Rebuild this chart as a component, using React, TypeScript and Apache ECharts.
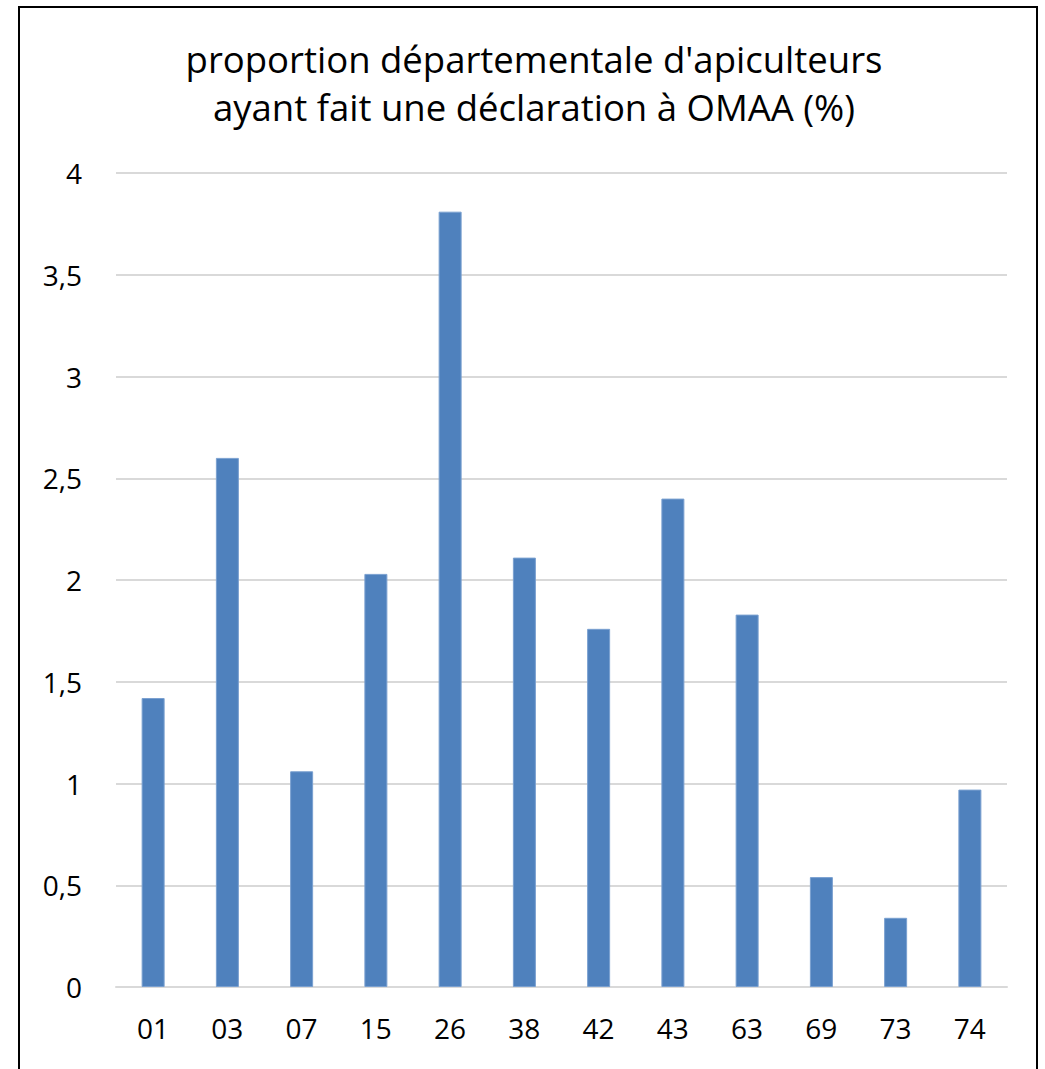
import React, { useEffect, useRef } from "react";
import * as echarts from "echarts";

const categories = ["01", "03", "07", "15", "26", "38", "42", "43", "63", "69", "73", "74"];
const values = [1.42, 2.6, 1.06, 2.03, 3.81, 2.11, 1.76, 2.4, 1.83, 0.54, 0.34, 0.97];
const titleLines = ["proportion départementale d'apiculteurs", "ayant fait une déclaration à OMAA (%)"];

const FONT = "'Open Sans', 'Noto Sans', sans-serif";

export default function App() {
  const ref = useRef<HTMLDivElement>(null);
  useEffect(() => {
    if (!ref.current) return;
    const chart = echarts.init(ref.current, null, { renderer: "svg" });
    chart.setOption({
      animation: false,
      backgroundColor: "#ffffff",
      title: {
        text: titleLines.join("\n"),
        left: 529,
        textAlign: "center",
        top: 30,
        textStyle: {
          fontFamily: FONT,
          fontSize: 36.5,
          fontWeight: "normal",
          color: "#000000",
          lineHeight: 48,
        },
      },
      graphic: [
        {
          type: "rect",
          shape: { x: 19, y: 7, width: 1018, height: 1100 },
          style: { fill: "none", stroke: "#000000", lineWidth: 2 },
          silent: true,
        },
      ],
      grid: { left: 116, right: 38, top: 173, bottom: 82 },
      xAxis: {
        type: "category",
        data: categories,
        axisLine: { show: true, lineStyle: { color: "#d9d9d9", width: 2 } },
        axisTick: { show: false },
        axisLabel: { fontFamily: FONT, fontSize: 28, color: "#000000", margin: 27 },
      },
      yAxis: {
        type: "value",
        min: 0,
        max: 4,
        interval: 0.5,
        axisLine: { show: false },
        axisTick: { show: false },
        splitLine: { lineStyle: { color: "#d9d9d9", width: 2 } },
        axisLabel: {
          fontFamily: FONT,
          fontSize: 28,
          color: "#000000",
          margin: 34,
          formatter: (v: number) => String(v).replace(".", ","),
        },
      },
      series: [
        {
          type: "bar",
          data: values,
          barWidth: 23,
          itemStyle: { color: "#4f81bd", borderColor: "#7aa0d0", borderWidth: 1 },
        },
      ],
    });
    return () => chart.dispose();
  }, []);
  return (
    <div
      ref={ref}
      style={{ position: "absolute", left: 0, top: 0, width: 1045, height: 1069 }}
    />
  );
}
